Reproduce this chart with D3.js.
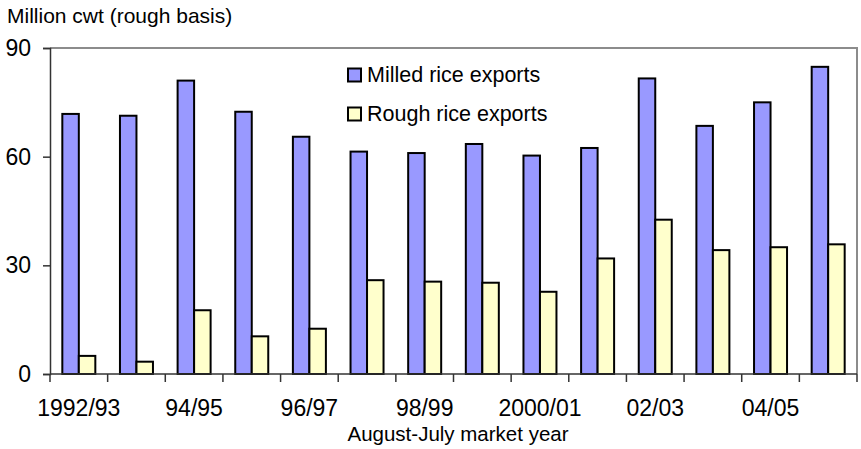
<!DOCTYPE html>
<html>
<head>
<meta charset="utf-8">
<script src="https://cdn.jsdelivr.net/npm/d3@7/dist/d3.min.js"></script>
<style>
  html, body { margin: 0; padding: 0; background: #fff; }
  svg { display: block; font-family: "Liberation Sans", Arial, sans-serif; }
</style>
</head>
<body>
<svg id="chart" width="861" height="449"></svg>
<script>
// Market years (August-July)
const years = ["1992/93", "1993/94", "94/95", "1995/96", "96/97", "1997/98", "98/99",
               "1999/00", "2000/01", "2001/02", "02/03", "2003/04", "04/05", "2005/06"];
// Labels shown under the axis (every other year)
const shownLabels = ["1992/93", "94/95", "96/97", "98/99", "2000/01", "02/03", "04/05"];
// Million cwt, rough basis
const milled = [71.8, 71.3, 81.0, 72.4, 65.5, 61.4, 61.0, 63.5, 60.3, 62.4, 81.6, 68.5, 75.0, 84.8];
const rough  = [5.0, 3.4, 17.6, 10.4, 12.5, 25.9, 25.5, 25.2, 22.7, 31.9, 42.6, 34.2, 35.0, 35.8];
const seriesNames = ["Milled rice exports", "Rough rice exports"];
const seriesColors = ["#9999FF", "#FFFFCC"];
const yTicks = [0, 30, 60, 90];

const svg = d3.select("#chart");
const m = { left: 50, right: 857, top: 48, bottom: 374 };

const x = d3.scaleBand().domain(years).range([m.left, m.right]).paddingInner(0).paddingOuter(0);
const inner = d3.scaleBand().domain([0, 1]).range([0, 33]);
const y = d3.scaleLinear().domain([0, 90]).range([m.bottom, m.top]);

// Plot frame (top and right edges)
svg.append("path")
  .attr("d", `M${m.left},${m.top}H${m.right}V${m.bottom}`)
  .attr("fill", "none").attr("stroke", "#8c8c8c").attr("stroke-width", 2);

// Bars
const series = [milled, rough];
series.forEach((vals, si) => {
  svg.append("g").selectAll("rect")
    .data(vals)
    .join("rect")
    .attr("x", (d, i) => x(years[i]) + (x.bandwidth() - 33) / 2 + inner(si))
    .attr("y", d => y(d))
    .attr("width", inner.bandwidth())
    .attr("height", d => y(0) - y(d))
    .attr("fill", seriesColors[si])
    .attr("stroke", "#000")
    .attr("stroke-width", 2);
});

// Y axis
const yAxis = d3.axisLeft(y).tickValues(yTicks).tickSize(7).tickPadding(12).tickFormat(d3.format("d"));
const ya = svg.append("g").attr("transform", `translate(${m.left},0)`).call(yAxis);
ya.select(".domain").attr("stroke", "#333").attr("stroke-width", 1.5);
ya.selectAll(".tick line").attr("stroke", "#333").attr("stroke-width", 1.5);
ya.selectAll(".tick text").attr("font-size", 23).attr("fill", "#000")
  .attr("font-family", "'Liberation Sans', Arial, sans-serif");

// X axis: ticks at category boundaries
const boundaries = years.map(d => x(d)).concat([m.right]);
const xa = svg.append("g");
xa.append("line").attr("x1", m.left).attr("x2", m.right).attr("y1", m.bottom).attr("y2", m.bottom)
  .attr("stroke", "#333").attr("stroke-width", 1.5);
xa.selectAll("line.tk").data(boundaries).join("line").attr("class", "tk")
  .attr("x1", d => d).attr("x2", d => d).attr("y1", m.bottom).attr("y2", m.bottom + 8)
  .attr("stroke", "#333").attr("stroke-width", 1.5);
xa.selectAll("text").data(shownLabels).join("text")
  .attr("x", d => x(d) + x.bandwidth() / 2)
  .attr("y", 416)
  .attr("text-anchor", "middle")
  .attr("font-size", 23)
  .text(d => d);

// Axis titles
svg.append("text").attr("x", 458).attr("y", 441).attr("text-anchor", "middle")
  .attr("font-size", 20.5).text("August-July market year");
svg.append("text").attr("x", 7).attr("y", 23).attr("font-size", 21).text("Million cwt (rough basis)");

// Legend
const lg = svg.append("g");
seriesNames.forEach((name, i) => {
  const ly = 75 + i * 39;
  lg.append("rect").attr("x", 348).attr("y", ly - 6.5).attr("width", 13).attr("height", 13)
    .attr("fill", seriesColors[i]).attr("stroke", "#000").attr("stroke-width", 2);
  lg.append("text").attr("x", 367).attr("y", ly + 7).attr("font-size", 21.5).text(name);
});
</script>
</body>
</html>
